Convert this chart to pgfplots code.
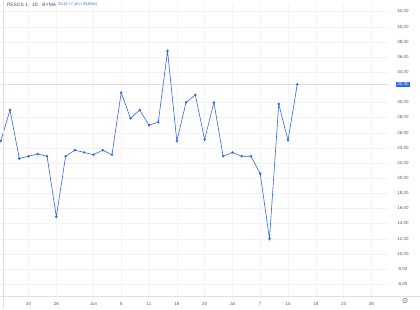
\documentclass[border=0pt]{standalone}
\usepackage{pgfplots}
\pgfplotsset{compat=1.18}
\usepackage{fontspec}
\setmainfont{Liberation Sans}
\definecolor{tvblue}{RGB}{52,100,224}
\definecolor{tvgrid}{RGB}{241,243,248}
\definecolor{tvtext}{RGB}{90,92,98}
\definecolor{tvline}{RGB}{222,224,230}
\begin{document}
\begin{tikzpicture}[x=1pt,y=1pt]
\path[use as bounding box] (0,0) rectangle (420,309);
\begin{axis}[
  at={(0,13)}, anchor=south west,
  scale only axis, width=388pt, height=296pt,
  xmin=-0.079, xmax=41.79, ymin=4.02, ymax=43.12,
  axis line style={draw=none}, tick style={draw=none},
  major tick length=0pt,
  xmajorgrids, ymajorgrids,
  grid style={tvgrid, line width=0.5pt},
  xtick={3,6,10,13,16,19,22,25,28,31,34,37,40},
  xticklabels={20,26,Jun,5,11,18,25,Jul,7,15,18,23,28},
  ytick={6,8,10,12,14,16,18,20,22,24,26,28,30,34,36,38,40,42},
  yticklabels={{6,00},{8,00},{10,00},{12,00},{14,00},{16,00},{18,00},{20,00},{22,00},{24,00},{26,00},{28,00},{30,00},{34,00},{36,00},{38,00},{40,00},{42,00}},
  yticklabel pos=right,
  ticklabel style={font=\fontsize{4.5}{5}\selectfont, text=tvtext},
  yticklabel style={anchor=center, inner sep=0pt, xshift=15pt},
  xticklabel style={anchor=center, inner sep=0pt, yshift=-5pt},
  clip=true,
]
\addplot[tvline, line width=0.6pt, forget plot] coordinates {(-0.079,32.4) (41.79,32.4)};
\addplot[tvblue, line width=0.6pt, mark=*, mark size=0.9pt, mark options={fill=tvblue, draw=tvblue}] coordinates {
(0,24.9) (1,29.0) (2,22.6) (3,22.9) (4,23.2) (5,22.9) (6,14.9) (7,22.9) (8,23.7) (9,23.4)
(10,23.1) (11,23.7) (12,23.1) (13,31.3) (14,27.9) (15,29.0) (16,27.0) (17,27.4) (18,36.8) (19,24.9)
(20,30.0) (21,31.0) (22,25.1) (23,30.0) (24,22.9) (25,23.4) (26,22.9) (27,22.9) (28,20.6) (29,12.0)
(30,29.8) (31,25.0) (32,32.4)};
\coordinate (pl) at (axis cs:41.79,32.4);
\end{axis}
\draw[tvline, line width=0.5pt] (3,0) -- (3,309);
\draw[tvline, line width=0.5pt] (0,13) -- (420,13);
\node[fill=tvblue, text=white, inner xsep=1.2pt, inner ysep=0.9pt, font=\fontsize{4.5}{5}\selectfont, anchor=center] at ([xshift=15pt]pl) {32,40};
\node[anchor=west, inner sep=0pt, text=tvtext!80!black, font=\fontsize{4.8}{5}\selectfont] at (7,304) {PESOS 1 \textperiodcentered{} 1D \textperiodcentered{} BYMA};
\node[anchor=west, inner sep=0pt, text=tvblue, font=\fontsize{3.8}{4}\selectfont] at (58,304) {32,40 +7,40 (+29,60\%)};
\draw[tvtext, line width=0.4pt] (405,8.5) circle (2.3pt);
\fill[tvtext] (405,8.5) circle (0.6pt);
\end{tikzpicture}
\end{document}
